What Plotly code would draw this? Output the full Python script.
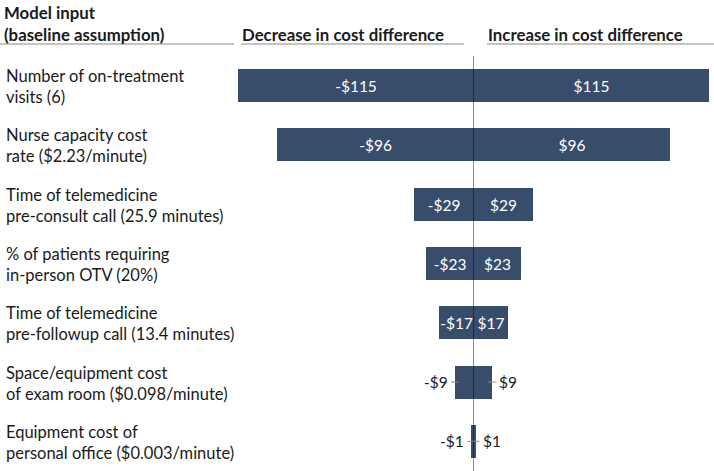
import plotly.graph_objects as go

# ---------------- data ----------------
inputs = [
    "Number of on-treatment<br>visits (6)",
    "Nurse capacity cost<br>rate ($2.23/minute)",
    "Time of telemedicine<br>pre-consult call (25.9 minutes)",
    "% of patients requiring<br>in-person OTV (20%)",
    "Time of telemedicine<br>pre-followup call (13.4 minutes)",
    "Space/equipment cost<br>of exam room ($0.098/minute)",
    "Equipment cost of<br>personal office ($0.003/minute)",
]
decrease = [-115, -96, -29, -23, -17, -9, -1]
increase = [115, 96, 29, 23, 17, 9, 1]
decrease_labels = ["-$115", "-$96", "-$29", "-$23", "-$17", "-$9", "-$1"]
increase_labels = ["$115", "$96", "$29", "$23", "$17", "$9", "$1"]
label_inside = [True, True, True, True, True, False, False]

header_left = "Model input<br>(baseline assumption)"
header_dec = "Decrease in cost difference"
header_inc = "Increase in cost difference"

# ---------------- style ----------------
W, H = 714, 471
TOP = 56
FONT = "Lato"
BAR = "#384c6c"
TXT = "#1a1a1a"
LINE = "#8a8a8a"
FS = 16.5
FS_HEAD = 16.8
FS_BAR = 15.5

rows = list(range(len(inputs)))
plot_h = H - TOP


def py(pix):
    return (H - pix) / plot_h


def px(pix):
    return pix / W


fig = go.Figure()
for vals, labs in ((decrease, decrease_labels), (increase, increase_labels)):
    fig.add_trace(go.Bar(
        x=vals, y=rows, orientation="h", width=0.555,
        marker=dict(color=BAR, line=dict(width=0)),
        text=[l if ins else "" for l, ins in zip(labs, label_inside)],
        textposition="inside", insidetextanchor="middle",
        textangle=0, constraintext="none",
        insidetextfont=dict(color="white", size=FS_BAR, family=FONT),
        hoverinfo="skip", showlegend=False,
    ))

annotations = []
shapes = []
for i, txt in enumerate(inputs):
    annotations.append(dict(
        x=px(4), xref="paper", y=i, yref="y", text=txt, showarrow=False,
        xanchor="left", yanchor="middle", align="left", yshift=-1,
        font=dict(size=FS, family=FONT, color=TXT),
    ))
for i, ins in enumerate(label_inside):
    if ins:
        continue
    for v, lab, side in ((decrease[i], decrease_labels[i], -1), (increase[i], increase_labels[i], 1)):
        annotations.append(dict(
            x=v, xref="x", y=i, yref="y", text=lab, showarrow=False,
            xanchor="right" if side < 0 else "left", yanchor="middle",
            xshift=5 * side,
            font=dict(size=FS_BAR, family=FONT, color=TXT),
        ))
        shapes.append(dict(
            type="line", xref="x", yref="y", xsizemode="pixel", xanchor=v,
            x0=-4, x1=4, y0=i, y1=i, line=dict(color=LINE, width=1), layer="above",
        ))

annotations += [
    dict(x=px(2), xref="paper", y=py(0), yref="paper", text="<b>" + header_left.replace("<br>", "</b><br><b>") + "</b>",
         showarrow=False, xanchor="left", yanchor="top", align="left",
         font=dict(size=FS_HEAD, family=FONT, color=TXT)),
    dict(x=px(240), xref="paper", y=py(47), yref="paper", text="<b>" + header_dec + "</b>",
         showarrow=False, xanchor="left", yanchor="bottom",
         font=dict(size=FS_HEAD, family=FONT, color=TXT)),
    dict(x=px(486), xref="paper", y=py(47), yref="paper", text="<b>" + header_inc + "</b>",
         showarrow=False, xanchor="left", yanchor="bottom",
         font=dict(size=FS_HEAD, family=FONT, color=TXT)),
]

for x0, x1 in ((0, 234), (241, 464), (487, 714)):
    shapes.append(dict(type="line", xref="paper", yref="paper",
                       x0=px(x0), x1=px(x1), y0=py(44), y1=py(44),
                       line=dict(color=LINE, width=1)))

shapes.append(dict(type="line", xref="x", yref="paper", x0=0, x1=0, y0=0, y1=1,
                   line=dict(color="rgba(0,0,0,0.45)", width=1), layer="above"))

m = max(increase)
fig.update_layout(
    width=W, height=H, margin=dict(l=0, r=0, t=TOP, b=0),
    paper_bgcolor="white", plot_bgcolor="white",
    barmode="relative", bargap=0,
    xaxis=dict(range=[-m, m], domain=[px(238), px(709)], visible=False, fixedrange=True),
    yaxis=dict(range=[len(rows) - 0.5, -0.5], visible=False, fixedrange=True),
    annotations=annotations, shapes=shapes,
    font=dict(family=FONT),
)

fig.write_html(
    "out.html",
    config={"displayModeBar": False},
    post_script="document.body.style.margin='0';document.body.style.overflow='hidden';",
)
